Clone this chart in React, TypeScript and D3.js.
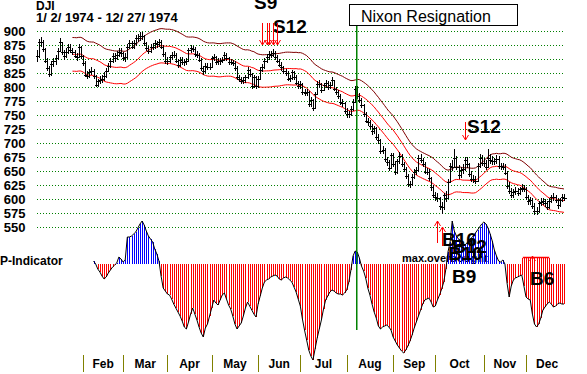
import React from 'react';
import * as d3 from 'd3';

// ---- data (trading days of 1974, index 0 = Jan 2, index 250 = Dec 27) ----
const closes = [
  855, 880, 880, 867, 847, 834, 823, 841, 846, 851, 865, 880, 863, 855, 863, 871, 866, 863, 856, 853, 872, 855,
  843, 821, 820, 826, 829, 820, 804, 810, 813, 815, 820, 829, 838, 846, 855, 851, 858, 863, 860,
  851, 853, 872, 878, 872, 878, 887, 888, 891, 891, 878, 870, 864, 872, 872, 878, 876, 881, 872, 859, 846,
  847, 853, 858, 858, 847, 839, 848, 845, 844, 847, 866, 869, 868, 859, 857, 849, 834, 828, 838, 836, 836,
  851, 853, 845, 846, 846, 849, 857, 851, 845, 845, 843, 834, 818, 815, 811, 812, 818, 831, 823, 802, 817, 802,
  815, 831, 835, 847, 853, 859, 857, 861, 854, 847, 840, 835, 828, 825, 815, 816, 827, 818, 808, 802,
  805, 791, 790, 791, 770, 777, 762, 787, 806, 805, 795, 803, 807, 800, 804, 812, 797, 791, 784, 773, 771, 757,
  751, 752, 760, 773, 797, 784, 777, 767, 752, 740, 737, 731, 721, 726, 711, 705, 686, 688, 671, 666, 656, 678,
  663, 648, 667, 677, 662, 654, 641, 627, 627, 639, 648, 651, 674, 670, 663, 649, 649, 637, 621, 607,
  604, 601, 587, 585, 607, 602, 631, 659, 658, 673, 658, 642, 651, 654, 669, 662, 645, 636, 636, 633, 659, 673, 665,
  665, 658, 674, 669, 667, 667, 672, 659, 659, 658, 647, 624, 615, 608, 612, 615, 611, 617, 620, 618,
  603, 596, 598, 588, 578, 579, 593, 595, 596, 592, 586, 597, 603, 604, 598, 589, 598, 604, 602,
];

const highs = [
  866, 886, 890, 884, 870, 851, 838, 846, 852, 857, 869, 887, 880, 866, 869, 877, 876, 870, 866, 861, 876, 874,
  858, 846, 828, 832, 836, 832, 822, 815, 819, 821, 826, 834, 843, 851, 861, 860, 864, 869, 869,
  863, 860, 876, 884, 883, 884, 893, 895, 899, 899, 893, 881, 874, 877, 879, 884, 883, 886, 884, 875, 862,
  853, 858, 863, 864, 861, 850, 853, 853, 850, 852, 870, 875, 874, 871, 864, 860, 852, 838, 842, 843, 842,
  855, 859, 856, 851, 852, 854, 862, 860, 854, 850, 849, 846, 837, 822, 818, 817, 822, 835, 833, 825, 821, 819,
  819, 835, 841, 852, 859, 865, 864, 867, 864, 857, 850, 844, 838, 832, 828, 822, 831, 829, 821, 811,
  811, 807, 797, 797, 792, 782, 779, 791, 810, 813, 808, 808, 813, 810, 809, 817, 813, 800, 794, 787, 778, 773,
  762, 758, 766, 778, 802, 801, 789, 780, 770, 755, 745, 741, 734, 731, 729, 716, 708, 694, 691, 675, 670, 682,
  682, 667, 672, 684, 680, 666, 657, 644, 633, 645, 654, 658, 679, 680, 674, 666, 656, 653, 640, 625,
  613, 610, 604, 595, 611, 614, 636, 664, 670, 690, 676, 661, 658, 663, 675, 675, 665, 650, 643, 641, 664, 680, 678,
  673, 670, 690, 680, 676, 673, 679, 676, 665, 665, 662, 650, 630, 620, 618, 621, 619, 622, 626, 625,
  621, 607, 604, 602, 592, 586, 597, 602, 602, 600, 596, 601, 608, 611, 608, 601, 602, 609, 609,
];

const lows = [
  845, 852, 872, 862, 842, 828, 817, 820, 836, 840, 848, 862, 858, 849, 852, 859, 861, 857, 851, 847, 851, 850,
  838, 817, 814, 816, 821, 815, 800, 800, 805, 808, 811, 816, 826, 834, 842, 845, 848, 853, 854,
  846, 845, 850, 867, 867, 868, 874, 881, 883, 884, 873, 864, 859, 861, 866, 867, 870, 871, 867, 854, 841,
  840, 842, 848, 852, 842, 834, 835, 840, 838, 839, 845, 861, 862, 854, 851, 844, 829, 822, 825, 830, 830,
  834, 846, 840, 840, 840, 842, 846, 846, 840, 839, 837, 829, 813, 809, 805, 806, 808, 815, 818, 797, 799, 797,
  799, 812, 827, 832, 843, 849, 851, 853, 849, 842, 835, 829, 823, 819, 810, 809, 812, 813, 803, 796,
  797, 786, 784, 784, 765, 764, 757, 760, 785, 799, 790, 792, 799, 795, 797, 801, 792, 786, 779, 768, 765, 752,
  745, 745, 748, 757, 771, 779, 771, 762, 747, 735, 731, 725, 715, 716, 706, 699, 680, 680, 666, 659, 650, 654,
  658, 642, 645, 663, 657, 648, 636, 621, 619, 624, 635, 643, 648, 664, 657, 644, 642, 632, 615, 601,
  597, 594, 581, 573, 581, 595, 600, 628, 650, 655, 652, 636, 638, 645, 650, 656, 639, 630, 628, 626, 631, 656, 659,
  657, 652, 655, 663, 661, 660, 662, 654, 652, 651, 642, 618, 609, 602, 602, 607, 605, 608, 612, 612,
  598, 590, 590, 583, 572, 571, 575, 588, 589, 586, 580, 582, 593, 597, 592, 583, 585, 595, 596,
];

// P-Indicator, starting at trading day pStart
const pStart = 27;
const pIndicator = [
  3, 0, -5, -8, -12, -15, -13, -9, -6, -3, -1, 1, 7, 5, 2, 4,
  27, 27, 28, 30, 32, 36, 40, 43, 39, 33, 28, 25, 22, 15, 10, 3,
  -12, -24, -27, -30, -31, -35, -40, -44, -48, -52, -57, -63, -65, -58, -50, -44,
  -50, -56, -63, -69, -73, -64, -60, -52, -44, -36, -39, -41, -36, -31, -29, -35,
  -41, -45, -52, -60, -65, -62, -59, -52, -44, -38, -42, -46, -50, -53, -40, -32,
  -24, -18, -16, -15, -13, -12, -11, -12, -15, -16, -14, -13, -14, -16, -18, -23,
  -28, -35, -42, -55, -66, -76, -86, -92, -96, -85, -74, -65, -56, -45, -36, -32,
  -28, -26, -27, -29, -30, -30, -31, -29, -26, -18, -6, 8, 13, 12, 6, -2,
  -7, -14, -24, -31, -40, -48, -54, -62, -65, -63, -62, -61, -63, -66, -73, -77,
  -81, -84, -87, -89, -86, -82, -77, -71, -64, -58, -52, -46, -40, -36, -35, -34,
  -38, -43, -42, -36, -31, -25, -18, -5, 12, 22, 43, 33, 28, 25, 22, 20,
  19, 21, 24, 26, 28, 31, 34, 37, 40, 42, 40, 36, 30, 23, 14, 8,
  3, 2, 4, 0, -19, -33, -22, -16, -14, -13, -12, -11, -22, -33, -35, -36,
  -50, -60, -63, -60, -54, -46, -43, -40, -38, -40, -43, -42, -40, -39, -40, -40,
];

const monthNames = ['Feb', 'Mar', 'Apr', 'May', 'Jun', 'Jul', 'Aug', 'Sep', 'Oct', 'Nov', 'Dec'];
const monthStarts = [22, 41, 62, 83, 105, 125, 147, 169, 189, 212, 232];
const monthEnd = 252;
const priceTicks = [900, 875, 850, 825, 800, 775, 750, 725, 700, 675, 650, 625, 600, 575, 550];

const bandPeriod = 21;
const bandFirstDay = 17;
const bandPct = 0.035;

const nixonDay = 152;
const juneSellDays = [107, 109, 110, 112, 114];
const octSellDay = 203;
const octBuyDays = [190, 192];
const decBuyDays = [230, 231, 232, 233, 234, 235, 236, 237, 238, 239, 240, 241, 242, 243];

const FONT = "'Liberation Sans', Arial, sans-serif";

export default function App() {
  const W = 587;
  const H = 374;
  const x = d3.scaleLinear().domain([0, 250]).range([36.6, 564]);
  const y = d3.scaleLinear().domain([550, 900]).range([227, 31]);
  const yp = d3.scaleLinear().domain([-100, 50]).range([364, 214]);

  const ma: (number | null)[] = closes.map((_, i) =>
    i < bandFirstDay ? null : (d3.mean(closes.slice(Math.max(0, i - bandPeriod + 1), i + 1)) as number)
  );
  const bandLine = (k: number) =>
    d3
      .line<number | null>()
      .defined((d) => d != null)
      .x((_, i) => x(i))
      .y((d) => y((d as number) * k))(ma) || '';

  const pLine =
    d3
      .line<number>()
      .x((_, i) => x(pStart + i))
      .y((d) => yp(d))(pIndicator) || '';

  const px = (i: number) => Math.round(x(i)) + 0.5;

  const arrowDown = (cx: number, y1: number, y2: number, key: string) => (
    <path
      key={key}
      d={`M${cx},${y1}L${cx},${y2}M${cx - 3},${y2 - 5}L${cx},${y2}L${cx + 3},${y2 - 5}`}
      stroke="#ff0000"
      strokeWidth={1}
      fill="none"
    />
  );
  const arrowUp = (cx: number, y1: number, y2: number, key: string) => (
    <path
      key={key}
      d={`M${cx},${y1}L${cx},${y2}M${cx - 3},${y2 + 5}L${cx},${y2}L${cx + 3},${y2 + 5}`}
      stroke="#ff0000"
      strokeWidth={1}
      fill="none"
    />
  );

  const bigText = { fontFamily: FONT, fontWeight: 700, fontSize: 19, fill: '#000' } as const;

  return (
    <svg
      width={W}
      height={H}
      style={{ position: 'absolute', left: 0, top: 0, background: '#fff' }}
      fontFamily={FONT}
    >
      <rect x={0} y={0} width={W} height={H} fill="#fff" />

      {/* title */}
      <text x={36} y={10} fontSize={12} fontWeight={700}>DJI</text>
      <text x={36} y={22} fontSize={13} fontWeight={700}>1/ 2/ 1974 - 12/ 27/ 1974</text>

      {/* gridlines & y labels */}
      {priceTicks.map((t) => (
        <g key={t}>
          <line
            x1={37}
            x2={563}
            y1={Math.round(y(t)) + 0.5}
            y2={Math.round(y(t)) + 0.5}
            stroke="#008000"
            strokeWidth={1}
            strokeDasharray="1 2"
          />
          <text x={25.5} y={y(t) + 4.5} fontSize={13} fontWeight={700} textAnchor="end">
            {t}
          </text>
        </g>
      ))}

      {/* bands */}
      <path d={bandLine(1 + bandPct)} stroke="#800000" strokeWidth={1} fill="none" />
      <path d={bandLine(1)} stroke="#ff0000" strokeWidth={1} fill="none" />
      <path d={bandLine(1 - bandPct)} stroke="#ff0000" strokeWidth={1} fill="none" />

      {/* price bars */}
      {closes.map((c, i) => (
        <g key={i} stroke="#000" strokeWidth={1} shapeRendering="crispEdges">
          <line x1={px(i)} x2={px(i)} y1={y(highs[i])} y2={y(lows[i])} />
          <line x1={px(i) - 2} x2={px(i) + 2} y1={Math.round(y(c)) + 0.5} y2={Math.round(y(c)) + 0.5} />
        </g>
      ))}

      {/* P-Indicator label and text under the bars */}
      <text x={0} y={265} fontSize={12} fontWeight={700}>P-Indicator</text>
      <text x={402} y={262} fontSize={11} fontWeight={700}>max.overbought</text>

      {/* P-Indicator stripes */}
      {pIndicator.map((v, i) => (
        <line
          key={i}
          x1={px(pStart + i)}
          x2={px(pStart + i)}
          y1={yp(0)}
          y2={yp(v)}
          stroke={v >= 0 ? '#0000ff' : '#ff0000'}
          strokeWidth={1}
          shapeRendering="crispEdges"
        />
      ))}
      <path d={pLine} stroke="#000" strokeWidth={1} fill="none" />

      {/* Dec buy marker band */}
      {decBuyDays.map((d) => (
        <line key={d} x1={px(d)} x2={px(d)} y1={258} y2={264} stroke="#ff0000" strokeWidth={1} />
      ))}
      <line x1={x(decBuyDays[0]) + 1} x2={x(decBuyDays[decBuyDays.length - 1])} y1={257.5} y2={257.5} stroke="#ff0000" strokeWidth={1.5} />
      {arrowUp(px(235), 264, 256, 'decarrow')}

      {/* Nixon line */}
      <line x1={x(nixonDay) - 0.5} x2={x(nixonDay) - 0.5} y1={25} y2={330} stroke="#008000" strokeWidth={1.5} />
      <rect x={349.5} y={4.5} width={168} height={21} fill="#fff" stroke="#000" strokeWidth={1} />
      <text x={361} y={21.5} fontSize={16}>Nixon Resignation</text>

      {/* signals */}
      <text x={254} y={9} {...bigText}>S9</text>
      <text x={273} y={33} {...bigText}>S12</text>
      {juneSellDays.map((d) => arrowDown(px(d), 23, 45, 'js' + d))}

      <text x={467} y={133} {...bigText}>S12</text>
      {arrowDown(px(octSellDay), 122, 140, 'os')}

      {octBuyDays.map((d, k) => arrowUp(px(d), 243 + k * 3, 221 + k * 6, 'ob' + d))}
      <text x={442} y={246} {...bigText}>B16</text>
      <text x={452} y={253} {...bigText}>B12</text>
      <text x={448} y={260} {...bigText}>B10</text>
      <text x={452} y={283} {...bigText}>B9</text>
      <text x={530} y={285} {...bigText}>B6</text>

      {/* month axis */}
      {monthStarts.map((s, k) => {
        const next = k < monthStarts.length - 1 ? monthStarts[k + 1] : monthEnd;
        return (
          <g key={s}>
            <line x1={px(s)} x2={px(s)} y1={355} y2={372} stroke="#808000" strokeWidth={1} />
            <text x={(x(s) + x(next)) / 2} y={368} fontSize={12} fontWeight={700} textAnchor="middle">
              {monthNames[k]}
            </text>
          </g>
        );
      })}
    </svg>
  );
}
